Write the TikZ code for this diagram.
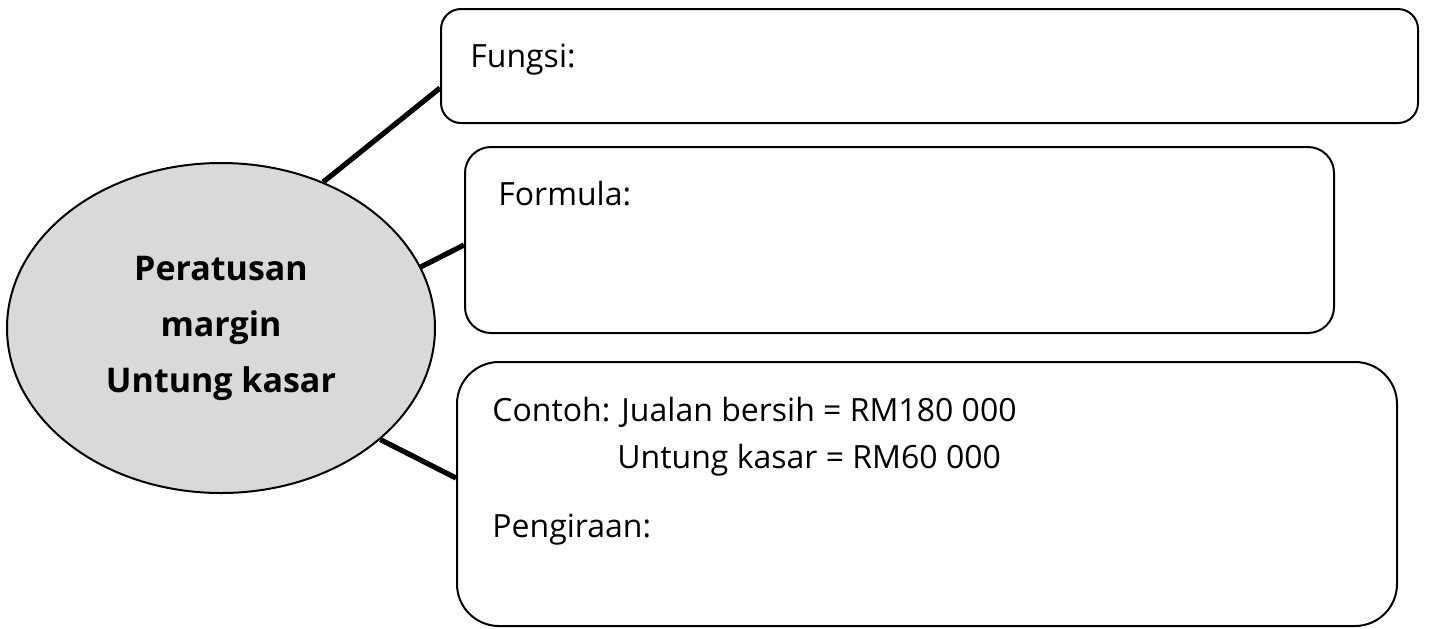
\documentclass[tikz,border=0pt]{standalone}
\usepackage{fontspec}
\setmainfont{Open Sans}
\usetikzlibrary{shapes.geometric}
\begin{document}
\begin{tikzpicture}[x=0.5pt,y=-0.5pt,
  boxstyle/.style={draw, line width=1pt, rounded corners=#1, inner sep=0pt},
  conn/.style={line width=2.6pt},
  lbl/.style={anchor=base west, inner sep=0pt, font=\fontsize{16}{19}\selectfont}]
\useasboundingbox (0,0) rectangle (1429,628);
\node[ellipse, draw, line width=1pt, fill=black!15, minimum width=214pt, minimum height=165pt, inner sep=0pt, align=center, font=\bfseries\fontsize{17}{28}\selectfont] (ell) at (221,328) {Peratusan\\margin\\Untung kasar};
\node[boxstyle=10pt, minimum width=488.5pt, minimum height=57pt] (b1) at (929.5,66) {};
\node[boxstyle=13pt, minimum width=434.5pt, minimum height=93pt] (b2) at (899.5,240) {};
\node[boxstyle=21pt, minimum width=470pt, minimum height=132pt] (b3) at (927,494) {};
\draw[conn] (ell.55) -- ([yshift=-11pt]b1.west);
\draw[conn] (ell.17) -- ([yshift=-2.5pt]b2.west);
\draw[conn] (ell.-35.5) -- ([yshift=8pt]b3.west);
\node[lbl] (t1) at (470,67) {Fungsi:};
\node[lbl] (t2) at (498,205) {Formula:};
\node[lbl] (t3) at (492,421) {Contoh: Jualan bersih = RM180 000};
\node[lbl] (t4) at (617,468) {Untung kasar = RM60 000};
\node[lbl] (t5) at (492,537) {Pengiraan:};
\end{tikzpicture}
\end{document}
